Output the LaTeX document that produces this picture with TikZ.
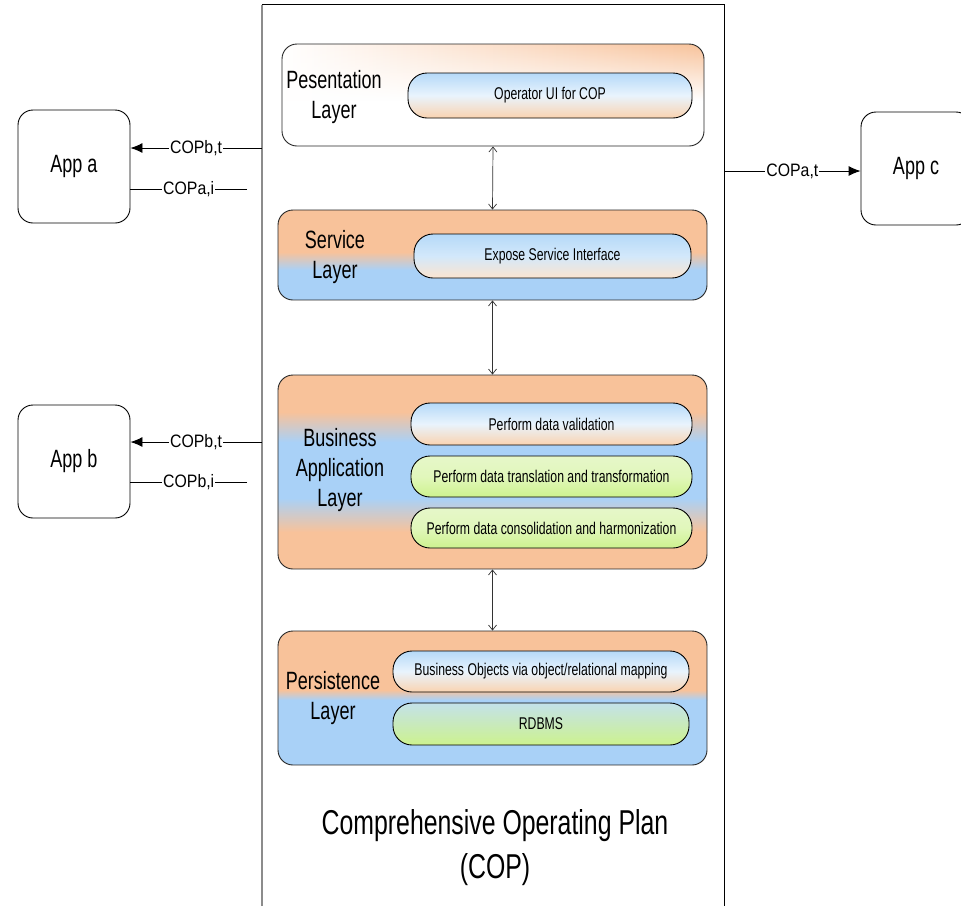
\documentclass[tikz,border=0pt]{standalone}
\usepackage{fontspec}
\setmainfont[FakeStretch=0.72]{Liberation Sans}
\newfontfamily\lblfont[FakeStretch=0.88]{Liberation Sans}
\usetikzlibrary{arrows.meta,fadings}
\definecolor{peach}{HTML}{F8C29A}
\definecolor{sky}{HTML}{A9D1F7}
\definecolor{pillblue}{HTML}{B5D9F8}
\definecolor{pillpeach}{HTML}{FAD3B0}
\definecolor{pillgreen}{HTML}{CDF28E}
\definecolor{pillgreenlt}{HTML}{E6F7C9}
\definecolor{edgegray}{HTML}{8C8C8C}
\begin{document}
\begin{tikzpicture}[x=1pt,y=-1pt,
  layerbox/.style={draw=black!85, line width=0.9pt, rounded corners=15pt, inner sep=0pt},
  layername/.style={font=\fontsize{25}{30}\selectfont, align=center, inner sep=0pt},
  pill/.style={draw=black, line width=0.9pt, rounded corners=19pt, inner sep=0pt,
     font=\fontsize{17}{20}\selectfont},
  bluepill/.style={pill, top color=pillblue, bottom color=pillpeach, middle color=white!70!pillblue},
  greenpill/.style={pill, top color=pillgreenlt, bottom color=pillgreen, middle color=pillgreen!60!white},
  appbox/.style={draw=black, line width=0.9pt, rounded corners=15pt, inner sep=0pt,
     minimum width=112pt, minimum height=113pt, font=\fontsize{25}{30}\selectfont},
  biarrow/.style={draw=black!80, line width=0.7pt, {Straight Barb[length=5pt,width=8pt]}-{Straight Barb[length=5pt,width=8pt]}},
  flow/.style={draw=black, line width=0.9pt},
  flowarrow/.style={flow, -{Latex[length=12pt,width=10pt]}},
  lbl/.style={fill=white, inner sep=1pt, font=\lblfont\fontsize{18}{20}\selectfont}
]
\useasboundingbox (0,0) rectangle (961,906);
\fill[white] (0,0) rectangle (961,906);

% COP container
\node[inner sep=0pt, minimum width=462pt, minimum height=901pt] (cop) at (493,455.5) {};
\draw[edgegray, line width=2pt] (cop.south west) -- (cop.north west);
\draw[black, line width=0.9pt] (cop.north west) -- (cop.north east) -- (cop.south east);

% ---- Presentation layer
\begin{scope}
  \clip[rounded corners=15pt] (282,44) rectangle (704,146);
  \fill[white] (282,44) rectangle (704,146);
  \shade[left color=white, right color=peach, path fading=south] (282,44) rectangle (704,100);
\end{scope}
\node[layerbox, minimum width=422pt, minimum height=102pt] (pres) at (493,95) {};
\node[layername] (presname) at (334,97) {Pesentation\\Layer};
\node[bluepill, minimum width=284pt, minimum height=45pt] (opui) at (550,95.5) {Operator UI for COP};

% ---- Service layer
\begin{scope}
  \clip[rounded corners=15pt] (278,210) rectangle (707,300);
  \fill[peach] (278,210) rectangle (707,300);
  \shade[top color=peach, bottom color=sky] (278,252) rectangle (707,270);
  \fill[sky] (278,270) rectangle (707,300);
\end{scope}
\node[layerbox, minimum width=429pt, minimum height=90pt] (svc) at (492.5,255) {};
\node[layername] (svcname) at (335,257) {Service\\Layer};
\node[bluepill, minimum width=277pt, minimum height=44pt, top color=pillblue, bottom color=pillpeach!60!white, middle color=pillblue!60!white] (expose) at (552.5,256) {Expose Service Interface};

% ---- Business application layer
\begin{scope}
  \clip[rounded corners=15pt] (278,375) rectangle (707,569);
  \fill[peach] (278,375) rectangle (707,569);
  \shade[top color=peach, bottom color=sky] (278,412) rectangle (707,442);
  \fill[sky] (278,442) rectangle (707,498);
  \shade[top color=sky, bottom color=peach] (278,498) rectangle (707,532);
\end{scope}
\node[layerbox, minimum width=429pt, minimum height=194pt] (biz) at (492.5,472) {};
\node[layername] (bizname) at (340,470) {Business\\Application\\Layer};
\node[bluepill, minimum width=281pt, minimum height=42pt] (valid) at (551.5,424) {Perform data validation};
\node[greenpill, minimum width=281pt, minimum height=41pt] (trans) at (551.5,476.5) {Perform data translation and transformation};
\node[greenpill, minimum width=281pt, minimum height=40pt] (cons) at (551.5,528) {Perform data consolidation and harmonization};

% ---- Persistence layer
\begin{scope}
  \clip[rounded corners=15pt] (278,631) rectangle (707,765);
  \fill[peach] (278,631) rectangle (707,765);
  \shade[top color=peach, bottom color=sky] (278,690) rectangle (707,700);
  \fill[sky] (278,700) rectangle (707,765);
\end{scope}
\node[layerbox, minimum width=429pt, minimum height=134pt] (pers) at (492.5,698) {};
\node[layername] (persname) at (333,698) {Persistence\\Layer};
\node[bluepill, minimum width=296pt, minimum height=41pt] (bo) at (541,671.5) {Business Objects via object/relational mapping};
\node[greenpill, minimum width=296pt, minimum height=42pt, top color=pillblue!70!pillgreenlt] (rdb) at (541,724) {RDBMS};

% ---- arrows between layers
\draw[biarrow] (pres.south) -- (svc.north);
\draw[biarrow] (svc.south) -- (biz.north);
\draw[biarrow] (biz.south) -- (pers.north);

% ---- Title
\node[font=\fontsize{34.5}{44}\selectfont, align=center, inner sep=0pt] (title) at (495,848) {Comprehensive Operating Plan\\(COP)};

% ---- Apps
\node[appbox] (appa) at (74,166.5) {App a};
\node[appbox] (appb) at (74,461.5) {App b};
\node[appbox, minimum width=110pt] (appc) at (916,168.5) {App c};

\coordinate (ai) at (247,189);
\coordinate (bi) at (247,482);

\draw[flowarrow] (cop.west |- 0,148) -- node[lbl] (lbt1) {COPb,t} (appa.east |- 0,148);
\draw[flow] (ai) -- node[lbl] (lai) {COPa,i} (appa.east |- ai);
\draw[flowarrow] (cop.west |- 0,442) -- node[lbl] (lbt2) {COPb,t} (appb.east |- 0,442);
\draw[flow] (bi) -- node[lbl] (lbi) {COPb,i} (appb.east |- bi);
\draw[flowarrow] (cop.east |- 0,171) -- node[lbl] (lat) {COPa,t} (appc.west |- 0,171);
\end{tikzpicture}
\end{document}
